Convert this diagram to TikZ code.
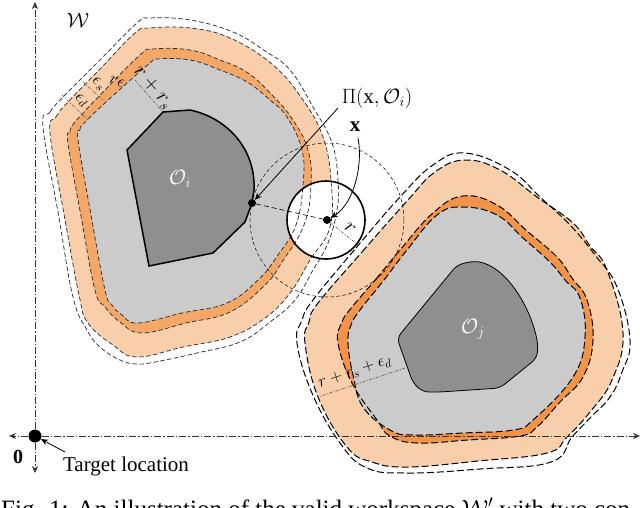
\documentclass[tikz,border=0pt]{standalone}
\usepackage{amsmath}
\usepackage{fontspec}
\setmainfont{Liberation Serif}
\usetikzlibrary{arrows.meta}
\definecolor{lightband}{RGB}{248,207,170}
\definecolor{midband}{RGB}{243,168,104}
\definecolor{strongband}{RGB}{241,148,72}
\definecolor{safegray}{RGB}{203,203,203}
\definecolor{obsgray}{RGB}{143,143,143}
\tikzset{%
  bound/.style  = {draw=black!85, dash pattern=on 4.5pt off 2.5pt, line width=.7pt},%
  boundj/.style = {draw=black, dash pattern=on 7pt off 3pt, line width=1pt},%
  axis/.style   = {draw=black!80, dash pattern=on 7pt off 2pt on 1.5pt off 2pt, line width=.6pt, -{Stealth[length=7pt,width=6pt]}},%
  tick/.style   = {draw=black!70, dash pattern=on 3pt off 1.5pt on 1pt off 1.5pt, line width=.5pt},%
  dot/.style    = {circle, fill=black, inner sep=0pt, minimum size=#1},%
  lab/.style    = {inner sep=0pt, font=\fontsize{21}{21}\selectfont},%
  contour/.style = {smooth cycle, tension=.7}%
}
\def\outerI{(43,127) (50,112) (63,97) (100,60) (137,23) (150,18) (190,20) (233,32) (265,51) (290,70) (313,107) (332,143) (338,180) (337,210) (328,243) (313,270) (295,300) (270,322) (240,342) (197,353) (155,362) (137,364) (120,360) (100,347) (87,330) (73,297) (58,212)}
\def\lightI{(50,133) (56,117) (67,103) (101,68) (135,33) (150,28) (190,28) (230,38) (273,65) (303,100) (323,137) (331,180) (330,227) (310,260) (290,293) (265,318) (230,337) (183,347) (137,357) (113,345) (88,323) (79,295) (64,214)}
\def\midI{(68,143) (70,132) (75,122) (106,89) (140,55) (153,49) (190,50) (220,60) (248,73) (273,96) (293,120) (308,150) (311,185) (304,225) (282,262) (265,285) (230,312) (186,323) (142,333) (120,322) (105,307) (95,290) (81,216)}
\def\grayI{(78,140) (80,130) (85,122) (117,92) (150,63) (157,59) (190,60) (220,70) (247,82) (270,100) (287,117) (302,150) (303,185) (296,225) (278,255) (258,280) (227,303) (182,313) (138,323) (122,315) (112,305) (105,290) (91,215)}
\def\outerJ{(313,300) (356,248) (400,197) (433,165) (465,153) (510,170) (540,197) (570,225) (595,255) (617,287) (630,340) (622,372) (610,397) (591,417) (572,437) (551,462) (480,469) (408,473) (367,468) (340,443) (312,393) (297,343) (302,320)}
\def\lightJ{(318,303) (362,252) (407,201) (435,172) (465,160) (500,170) (537,197) (573,223) (590,246) (607,270) (623,333) (612,380) (590,412) (567,437) (547,453) (478,461) (408,467) (372,462) (347,447) (318,397) (305,343) (309,322)}
\def\midJ{(352,307) (376,279) (400,250) (433,213) (463,196) (497,205) (527,231) (557,257) (572,278) (587,300) (593,340) (583,377) (560,402) (537,427) (520,436) (468,440) (417,443) (390,436) (377,420) (352,383) (338,343) (342,322)}
\def\grayJ{(360,310) (384,280) (407,250) (437,215) (463,207) (497,215) (523,238) (550,262) (565,280) (580,298) (585,337) (573,377) (533,420) (513,430) (463,433) (413,435) (390,430) (363,407) (353,375) (348,343) (351,325)}
\begin{document}
\begin{tikzpicture}[x=1pt,y=-1pt]
  \useasboundingbox (0,0) rectangle (640,507);
  \clip (0,0) rectangle (640,507);
  % -------------- bands --------------
  \fill[lightband] plot[contour] coordinates {\lightI};
  \fill[midband] plot[contour] coordinates {\midI};
  \fill[safegray] plot[contour] coordinates {\grayI};
  \fill[lightband] plot[contour] coordinates {\lightJ};
  \fill[strongband] plot[contour] coordinates {\midJ};
  \fill[safegray] plot[contour] coordinates {\grayJ};
  % -------------- robot body covers the bands --------------
  \fill[white] (326,220) circle (39);
  % -------------- obstacles --------------
  \draw[fill=obsgray, line width=1.5pt, line join=miter]
    (163,112) -- (190,110) .. controls (228,118) and (256,150) .. (254,190)
    -- (252,203) -- (245,222) -- (213,253) -- (149,266) -- (127,150) -- cycle;
  \draw[fill=obsgray, line width=.8pt, rounded corners=6pt]
    (397,338) -- (457,265) -- (473,261) .. controls (505,266) and (530,305) .. (538,345)
    -- (537,358) -- (500,388) -- (440,392) -- (423,392) -- (413,383) -- cycle;
  % -------------- dashed boundaries --------------
  \draw[bound] plot[contour] coordinates {\outerI};
  \draw[bound] plot[contour] coordinates {\lightI};
  \draw[bound] plot[contour] coordinates {\midI};
  \draw[bound] plot[contour] coordinates {\grayI};
  \draw[boundj] plot[contour] coordinates {\outerJ};
  \draw[boundj] plot[contour] coordinates {\lightJ};
  \draw[boundj] plot[contour] coordinates {\midJ};
  \draw[boundj] plot[contour] coordinates {\grayJ};
  % -------------- axes --------------
  \node[dot=13pt] (target) at (35,436) {};
  \coordinate (xleft) at (9,436);
  \coordinate (xright) at (640,436);
  \coordinate (ytop) at (35,2);
  \coordinate (ybottom) at (35,473);
  \draw[axis] (target) -- (xleft);
  \draw[axis] (target) -- (xright);
  \draw[axis] (target) -- (ytop);
  \draw[axis] (target) -- (ybottom);
  % -------------- robot --------------
  \node[dot=8pt] (centre) at (327,220) {};
  \node[dot=8pt] (nearest) at (252,203) {};
  \coordinate (rim) at (358,245);
  \draw[line width=1.6pt] (centre)+(-1,0) circle (39);
  \draw[dash pattern=on 3.5pt off 2.5pt, line width=.5pt] (centre) circle (77);
  \draw[dash pattern=on 5pt off 3pt, line width=.6pt] (nearest) -- (centre);
  \draw[tick] (centre) -- (rim);
  % -------------- clearance ticks --------------
  \coordinate (ra) at (135,80);
  \coordinate (rb) at (163,112);
  \coordinate (ea) at (62,95);
  \coordinate (eb) at (88,120);
  \coordinate (fa) at (83,82);
  \coordinate (fb) at (103,100);
  \coordinate (ja) at (405,368);
  \coordinate (jb) at (318,397);
  \draw[tick] (ra) -- (rb);
  \draw[tick] (ea) -- (eb);
  \draw[tick] (fa) -- (fb);
  \draw[tick] (ja) -- (jb);
  % -------------- labels --------------
  \node[lab] (workspace) at (78,20) {$\mathcal{W}$};
  \node[lab, text=white] (obsi) at (180,179) {$\mathcal{O}_i$};
  \node[lab, text=white] (obsj) at (473,329) {$\mathcal{O}_j$};
  \node[lab] (proj) at (377,98) {$\Pi(\mathrm{x},\mathcal{O}_i)$};
  \node[lab] (state) at (355,127) {$\mathbf{x}$};
  \node[lab, rotate=-40] (radius) at (350,228) {$r$};
  \node[lab, rotate=-49] (rs) at (153,88) {$r+r_s$};
  \node[lab, rotate=-40, font=\fontsize{18}{18}\selectfont] (ed) at (81,101) {$\epsilon_d$};
  \node[lab, rotate=-40, font=\fontsize{18}{18}\selectfont] (es) at (98,84) {$\epsilon_s$};
  \node[lab, rotate=-20, font=\fontsize{18}{18}\selectfont] (er) at (117,82) {$r\epsilon$};
  \node[lab, rotate=18, font=\fontsize{18}{18}\selectfont] (rj) at (355,372) {$r+r_s+\epsilon_d$};
  \node[lab, font=\fontsize{20}{20}\selectfont\bfseries] (zero) at (18,457) {0};
  \node[lab] (targetlab) at (126,466) {Target location};
  \node[lab, font=\fontsize{25}{25}\selectfont, anchor=base west] (caption) at (1,517) {Fig. 1: An illustration of the valid workspace $\mathcal{W}'$ with two con};
  % -------------- leaders --------------
  \coordinate (tailproj) at (338,108);
  \coordinate (tailstate) at (358,138);
  \coordinate (taillab) at (65,452);
  \draw[-{Stealth[length=7pt,width=6pt]}, line width=.8pt] (tailproj) -- (nearest);
  \draw[-{Stealth[length=7pt,width=6pt]}, line width=.8pt] (tailstate) .. controls (363,163) and (355,203) .. (centre);
  \draw[-{Stealth[length=7pt,width=6pt]}, line width=.8pt] (taillab) -- (target);
\end{tikzpicture}
\end{document}
